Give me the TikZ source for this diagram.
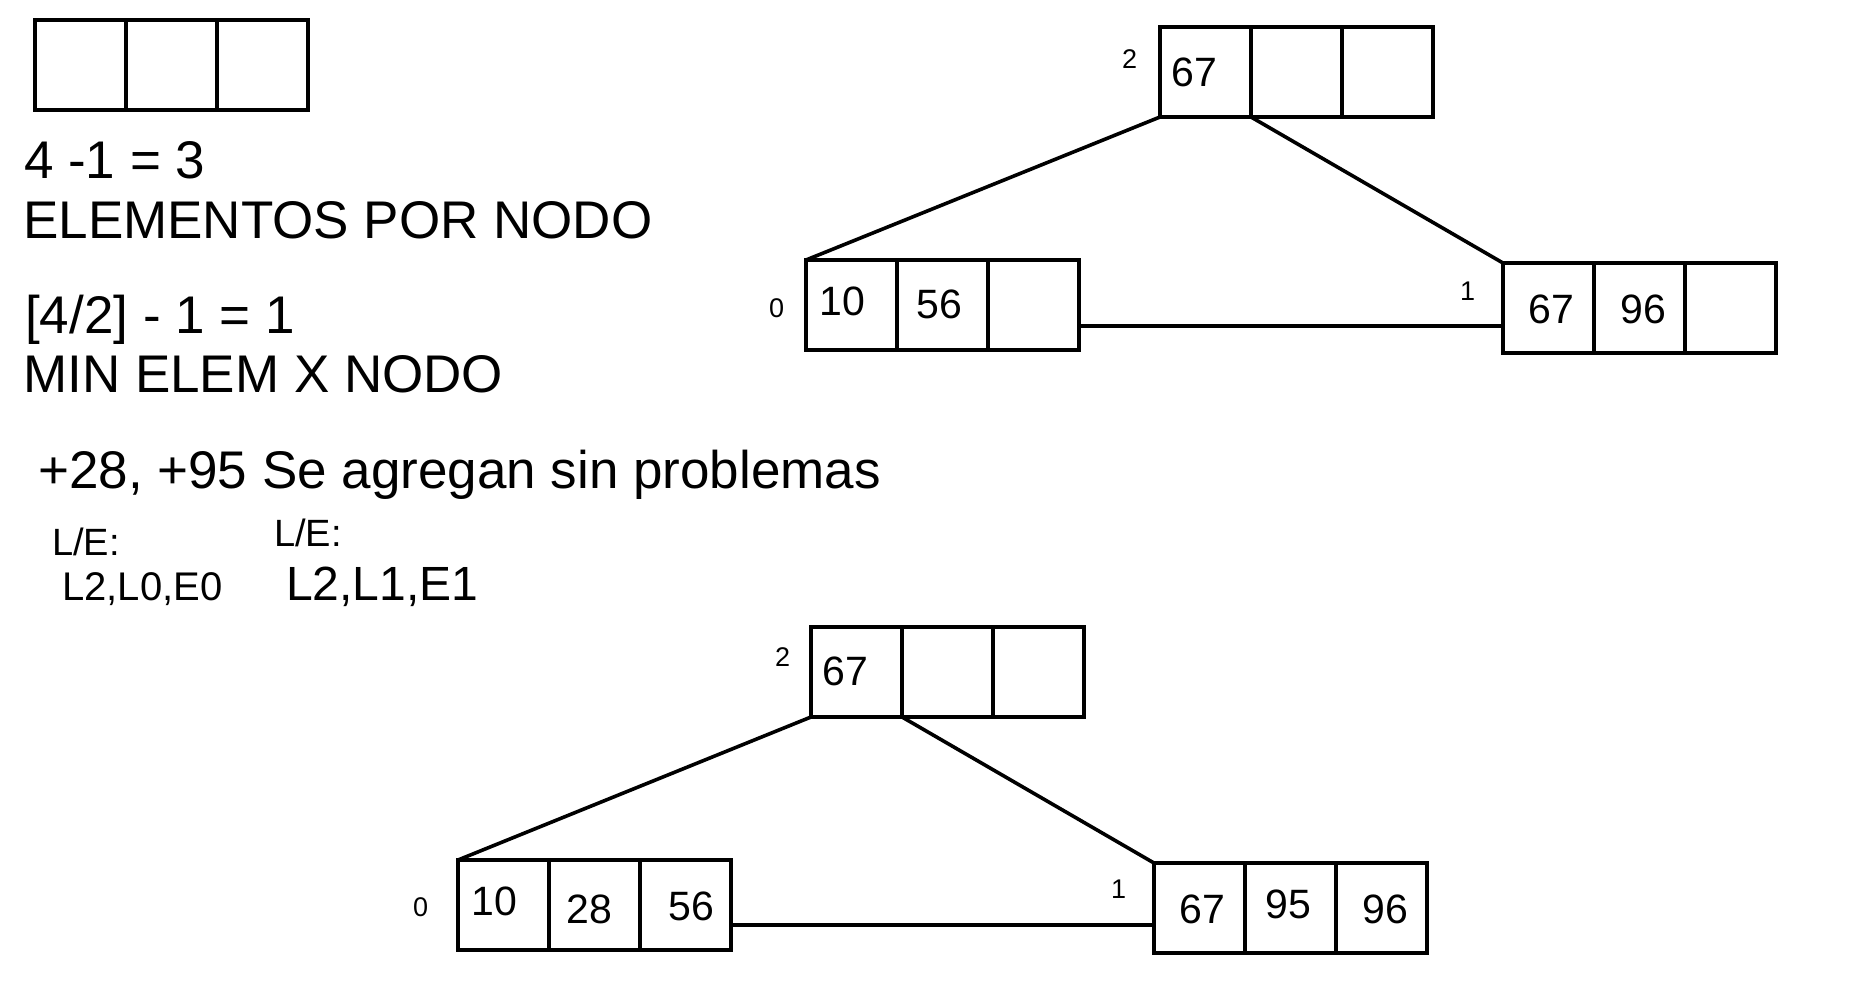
\documentclass[tikz,border=0pt]{standalone}
\usepackage{fontspec}
\setmainfont{Liberation Sans}
\newcommand\bttriple[3]{%
  \node[cell] (#1a) at ({#2+45.5},{#3+45}) {};
  \node[cell] (#1b) at ({#2+136.5},{#3+45}) {};
  \node[cell] (#1c) at ({#2+227.5},{#3+45}) {};}
\begin{document}
\begin{tikzpicture}[x=1pt,y=-1pt,
  cell/.style={draw, line width=4pt, minimum width=91pt, minimum height=90pt, inner sep=0pt, outer sep=0pt},
  big/.style={inner sep=0pt, anchor=base west, font=\fontsize{53}{62}\selectfont},
  num/.style={inner sep=0pt, anchor=base west, font=\fontsize{41}{48}\selectfont},
  lbl/.style={inner sep=0pt, anchor=base west, font=\fontsize{27}{32}\selectfont},
  edgeline/.style={line width=3.6pt}]
\fill[white] (0,0) rectangle (1864,996);
\useasboundingbox (0,0) rectangle (1864,996);

% empty node
\bttriple{E}{35}{20}

% texts
\node[big] (t1) at (24,178) {4 -1 = 3};
\node[big] (t2) at (23,238) {ELEMENTOS POR NODO};
\node[big] (t3) at (25,333) {[4/2] - 1 = 1};
\node[big] (t4) at (23,392) {MIN ELEM X NODO};
\node[big] (t5) at (38,488) {+28, +95 Se agregan sin problemas};
\node[inner sep=0pt, anchor=base west, font=\fontsize{38}{44}\selectfont] (le1) at (52,555) {L/E:};
\node[inner sep=0pt, anchor=base west, font=\fontsize{40}{46}\selectfont] (le1b) at (62,600) {L2,L0,E0};
\node[inner sep=0pt, anchor=base west, font=\fontsize{38}{44}\selectfont] (le2) at (274,546) {L/E:};
\node[inner sep=0pt, anchor=base west, font=\fontsize{48}{56}\selectfont] (le2b) at (286,600) {L2,L1,E1};

% top tree
\bttriple{R}{1160}{27}
\bttriple{A}{806}{260}
\bttriple{B}{1503}{263}
\coordinate (h1) at (0,326);
\draw[edgeline] (Ra.south west) -- (Aa.north west);
\draw[edgeline] (Ra.south east) -- (Ba.north west);
\draw[edgeline] (Ac.east |- h1) -- (Ba.west |- h1);
\node[lbl] (lR) at (1122,68) {2};
\node[num] (nR1) at (1171,86) {67};
\node[lbl] (lA) at (769,317) {0};
\node[num] (nA1) at (819,315) {10};
\node[num] (nA2) at (916,318) {56};
\node[lbl] (lB) at (1460,300) {1};
\node[num] (nB1) at (1528,323) {67};
\node[num] (nB2) at (1620,323) {96};

% bottom tree
\bttriple{r}{811}{627}
\bttriple{a}{458}{860}
\bttriple{b}{1154}{863}
\coordinate (h2) at (0,925);
\draw[edgeline] (ra.south west) -- (aa.north west);
\draw[edgeline] (ra.south east) -- (ba.north west);
\draw[edgeline] (ac.east |- h2) -- (ba.west |- h2);
\node[lbl] (lr) at (775,666) {2};
\node[num] (nr1) at (822,685) {67};
\node[lbl] (la) at (413,916) {0};
\node[num] (na1) at (471,915) {10};
\node[num] (na2) at (566,923) {28};
\node[num] (na3) at (668,920) {56};
\node[lbl] (lb) at (1111,898) {1};
\node[num] (nb1) at (1179,923) {67};
\node[num] (nb2) at (1265,918) {95};
\node[num] (nb3) at (1362,923) {96};
\end{tikzpicture}
\end{document}
